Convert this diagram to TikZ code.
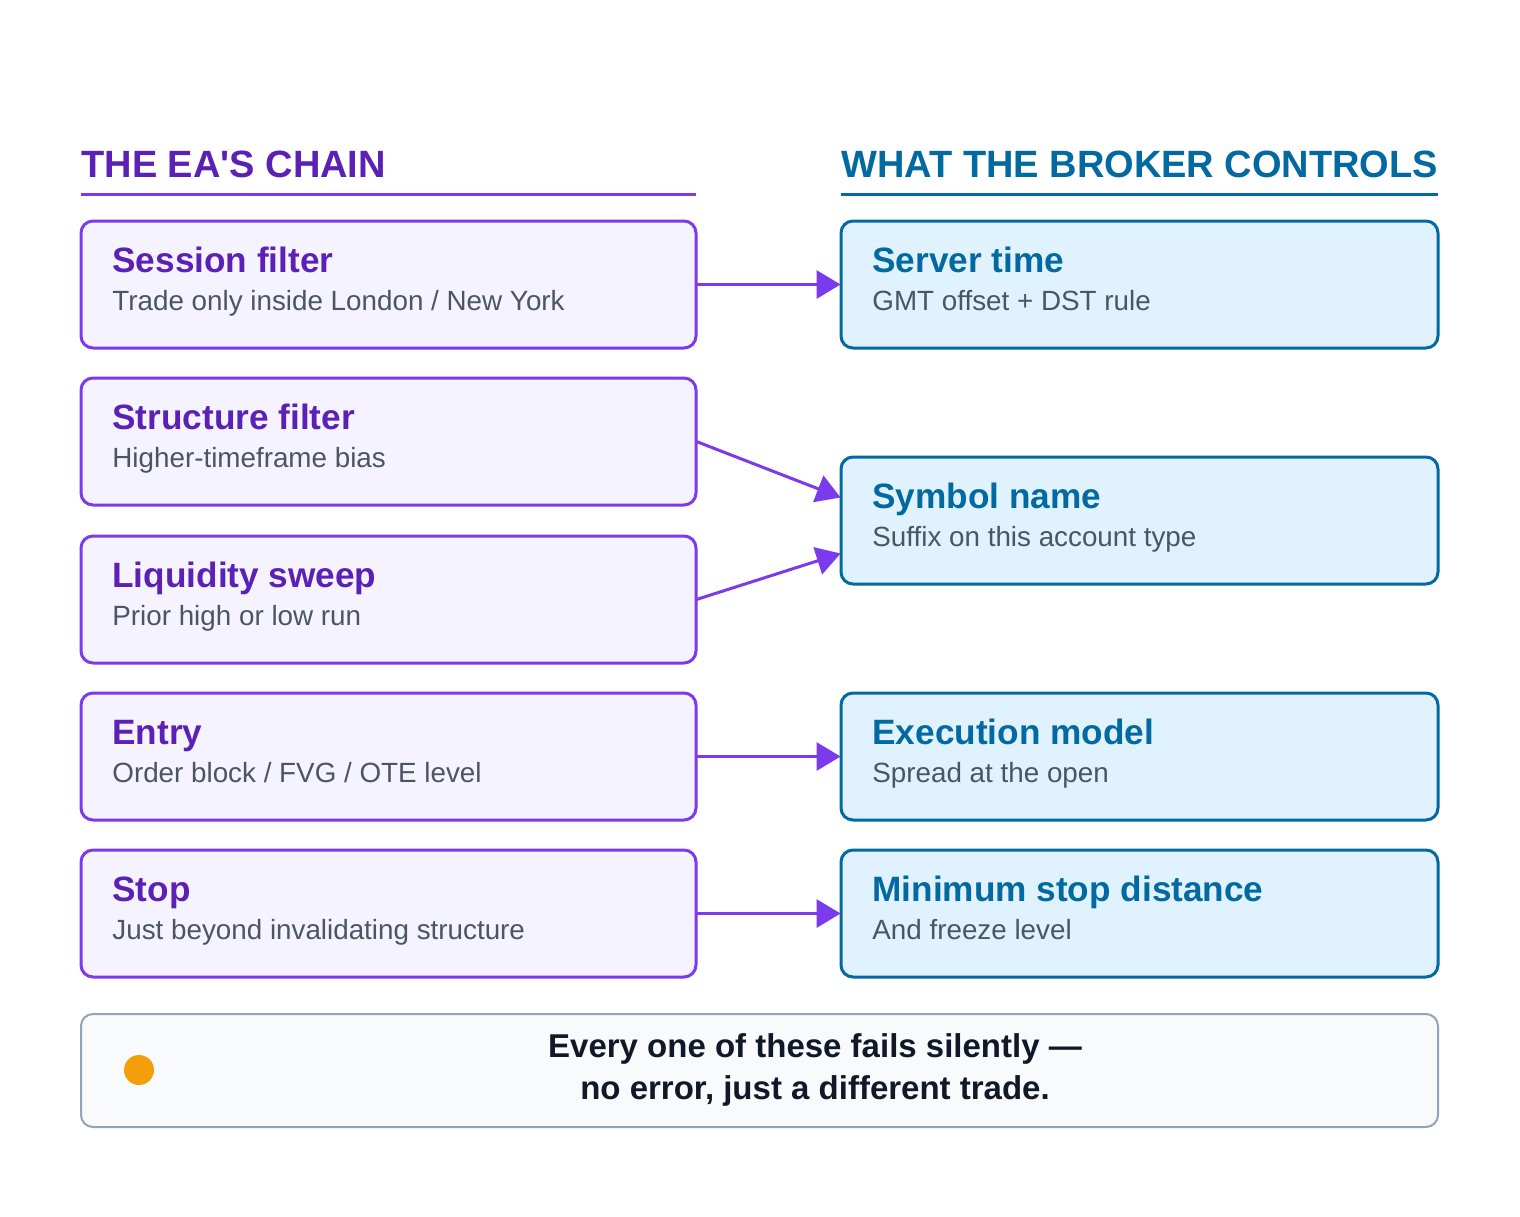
\documentclass[tikz,border=0pt]{standalone}
\usepackage{fontspec}
\setmainfont{Liberation Sans}
\usetikzlibrary{arrows.meta,calc}
\definecolor{pb}{HTML}{7C3AED}
\definecolor{pf}{HTML}{F5F3FF}
\definecolor{pt}{HTML}{5B21B6}
\definecolor{bb}{HTML}{0369A1}
\definecolor{bf}{HTML}{E0F2FE}
\definecolor{bt}{HTML}{0369A1}
\definecolor{gt}{HTML}{4B5563}
\definecolor{orng}{HTML}{F59E0B}
\definecolor{fb}{HTML}{94A3B8}
\definecolor{ff}{HTML}{F8FAFC}
\definecolor{ftx}{HTML}{111827}
\begin{document}
\begin{tikzpicture}[x=0.5pt,y=-0.5pt,
  lbox/.style={draw=pb,fill=pf,line width=1.5pt,rounded corners=6pt},
  rbox/.style={draw=bb,fill=bf,line width=1.5pt,rounded corners=6pt},
  ht/.style={anchor=base west,font=\fontsize{17.6pt}{20pt}\selectfont\bfseries,inner sep=0},
  st/.style={anchor=base west,font=\fontsize{13.9pt}{16pt}\selectfont,text=gt,inner sep=0},
  arr/.style={draw=pb,line width=1.5pt,-{Triangle[length=12pt,width=14pt]}}]
\useasboundingbox (0,0) rectangle (1520,1216);
\fill[white] (0,0) rectangle (1520,1216);
\node[anchor=base west,inner sep=0,text=pt,font=\fontsize{19pt}{22pt}\selectfont\bfseries] (t1) at (81,177) {THE EA\textquotesingle S CHAIN};
\node[anchor=base west,inner sep=0,text=bt,font=\fontsize{19pt}{22pt}\selectfont\bfseries] (t2) at (841,177) {WHAT THE BROKER CONTROLS};
\draw[pb,line width=1.5pt] (81,194) -- (696,194);
\draw[bb,line width=1.5pt] (841,194) -- (1438,194);
\foreach \n/\t/\h/\s in {l1/221/{Session filter}/{Trade only inside London / New York},
  l2/378/{Structure filter}/{Higher-timeframe bias},
  l3/536/{Liquidity sweep}/{Prior high or low run},
  l4/693/{Entry}/{Order block / FVG / OTE level},
  l5/850/{Stop}/{Just beyond invalidating structure}}{
  \path[lbox] (81,\t) rectangle (696,\t+127);
  \node[inner sep=0,minimum width=615*0.5pt,minimum height=127*0.5pt] (\n) at (388.5,\t+63.5) {};
  \node[ht,text=pt] at (112,\t+51) {\h};
  \node[st] at (112,\t+89) {\s};
}
\foreach \n/\t/\h/\s in {r1/221/{Server time}/{GMT offset + DST rule},
  r2/457/{Symbol name}/{Suffix on this account type},
  r3/693/{Execution model}/{Spread at the open},
  r4/850/{Minimum stop distance}/{And freeze level}}{
  \path[rbox] (841,\t) rectangle (1438,\t+127);
  \node[inner sep=0,minimum width=597*0.5pt,minimum height=127*0.5pt] (\n) at (1139.5,\t+63.5) {};
  \node[ht,text=bt] at (872,\t+51) {\h};
  \node[st] at (872,\t+89) {\s};
}
\draw[arr] (l1.east) -- (r1.west);
\draw[arr] (l2.east) -- ($(r2.west)+(0,-23)$);
\draw[arr] (l3.east) -- ($(r2.west)+(0,33)$);
\draw[arr] (l4.east) -- (r3.west);
\draw[arr] (l5.east) -- (r4.west);
\draw[draw=fb,fill=ff,line width=1pt,rounded corners=6pt] (81,1014) rectangle (1438,1127);
\node[fill=orng,circle,inner sep=0,minimum size=15pt] (dot) at (139,1070) {};
\node[align=center,font=\fontsize{16.5pt}{21pt}\selectfont\bfseries,text=ftx] (ft) at (815,1070) {Every one of these fails silently —\\no error, just a different trade.};
\end{tikzpicture}
\end{document}
